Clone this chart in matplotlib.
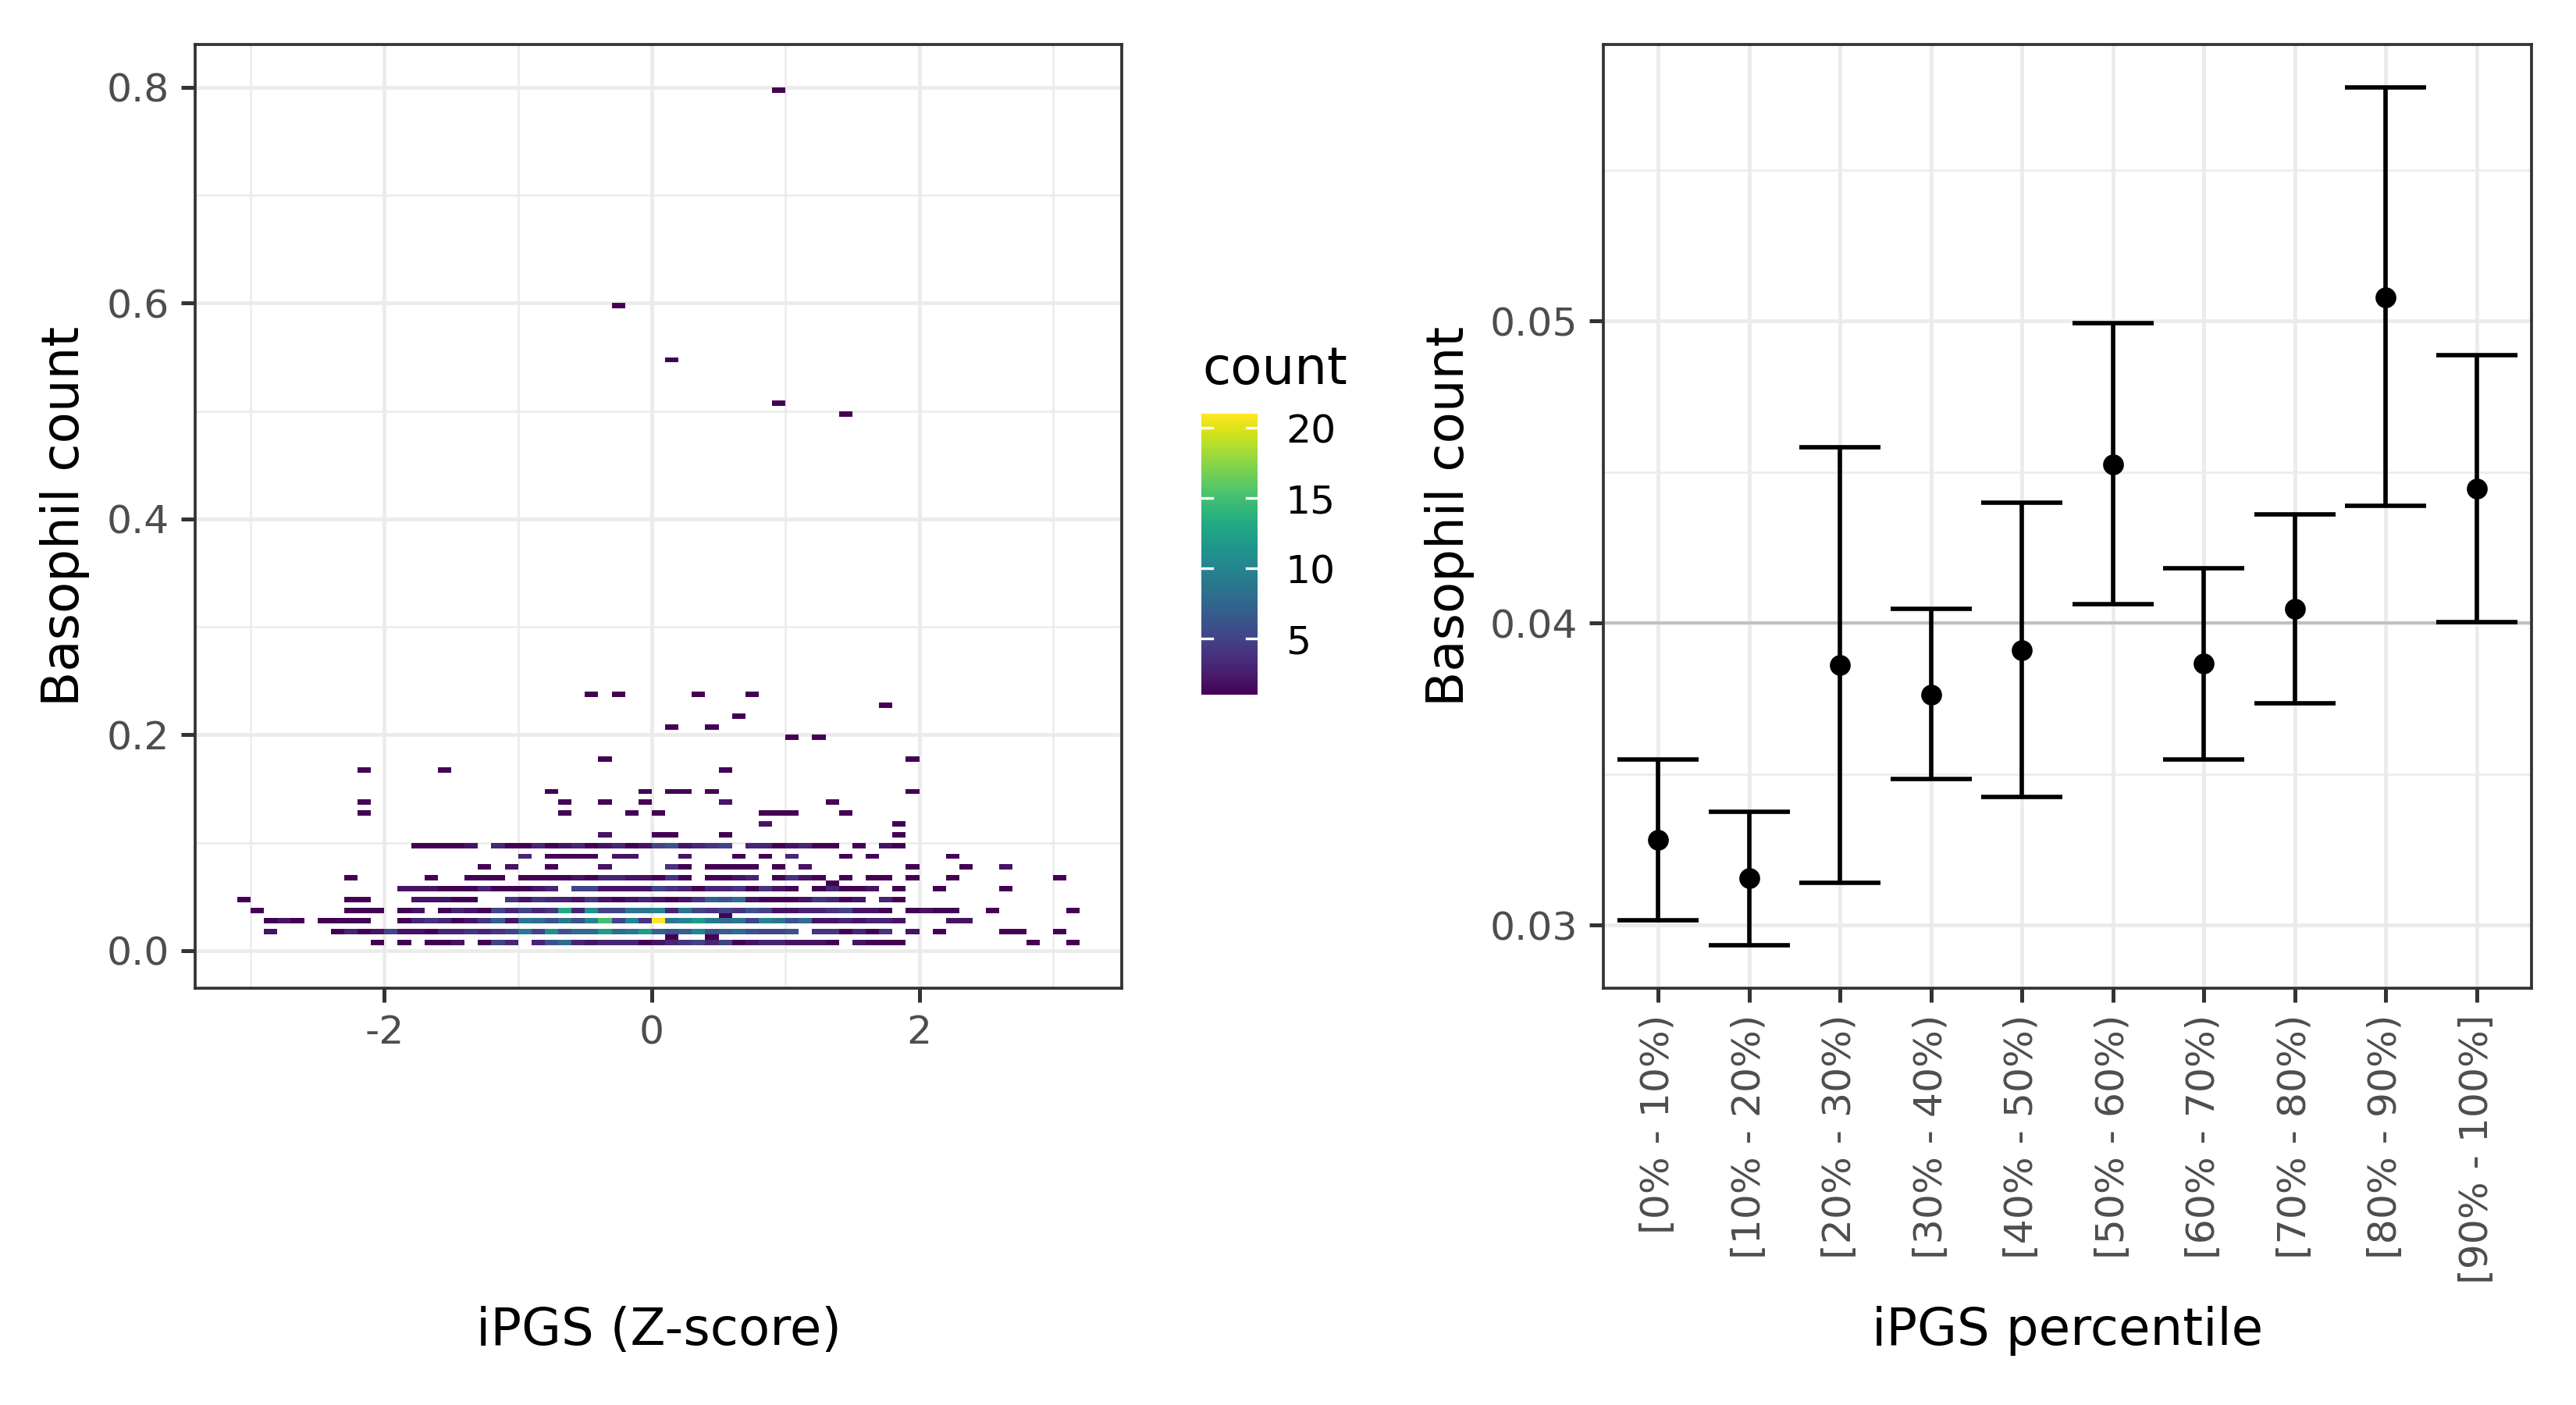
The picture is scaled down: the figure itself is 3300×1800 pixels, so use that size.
import numpy as np
import matplotlib
matplotlib.use("Agg")
import matplotlib.pyplot as plt
from matplotlib import colors, cm
from matplotlib.ticker import FixedLocator
from matplotlib.transforms import blended_transform_factory

plt.rcParams["font.family"] = ["DejaVu Sans"]
plt.rcParams["axes.unicode_minus"] = False

# ---- left panel: 2d bins (iPGS z-score x basophil count) ----
# x bins start at -3.1, width 0.1; each row is the top of a 0.005-high y bin
BIN_X0 = -3.1
BIN_DX = 0.1
BIN_DY = 0.005

row_y = [0.01, 0.015, 0.02, 0.03, 0.035, 0.04, 0.05, 0.06, 0.065, 0.07, 0.08,
         0.09, 0.10, 0.11, 0.12, 0.13, 0.14, 0.15, 0.17, 0.18, 0.20, 0.21,
         0.22, 0.23, 0.24, 0.50, 0.51, 0.55, 0.60, 0.80]

# "bin:count" pairs per row
row_cells = [
    "10:1 12:1 14:1 15:1 16:2 18:1 19:5 20:3 22:3 23:6 24:8 25:3 26:2 27:3 28:3 29:3 30:1 31:2 "
    "32:3 33:4 34:5 35:3 36:5 37:1 38:2 39:3 40:3 41:2 42:2 43:2 44:1 46:2 47:1 48:1 49:1 59:1 62:1",
    "32:1 35:1",
    "2:2 7:1 8:3 9:1 10:2 11:5 12:2 13:2 14:1 15:3 16:3 17:4 18:3 19:4 20:5 21:9 22:5 23:11 24:6 "
    "25:8 26:8 27:12 28:8 29:9 30:12 31:7 32:6 33:7 34:10 35:6 36:7 37:8 38:6 39:5 40:5 41:6 43:4 "
    "44:4 45:1 46:3 47:1 48:4 50:2 52:1 57:1 58:1 61:1",
    "2:1 3:2 4:1 6:1 7:1 8:1 9:1 12:1 13:3 14:4 15:3 16:1 17:2 18:4 19:7 20:2 21:9 22:8 23:6 24:9 "
    "25:6 26:10 27:15 28:5 29:10 30:4 31:21 32:9 33:10 34:12 35:9 36:8 37:9 38:5 39:10 40:9 41:6 "
    "42:8 43:2 44:2 45:3 46:2 47:3 48:3 49:2 53:2 54:2",
    "36:1",
    "1:1 8:1 9:1 10:1 12:1 13:2 15:1 16:3 17:2 18:1 19:5 20:3 21:5 22:3 23:4 24:13 25:3 26:11 27:5 "
    "28:5 29:9 30:9 31:10 32:3 33:9 34:5 35:4 36:5 37:4 38:6 39:5 40:2 41:2 42:3 43:3 44:4 45:5 "
    "46:2 47:2 48:1 50:1 51:2 52:1 53:1 56:1 62:1",
    "0:1 8:1 9:1 13:2 14:2 15:2 16:1 17:1 20:4 21:2 22:4 23:3 24:3 25:2 26:4 27:2 28:1 29:2 30:3 "
    "31:2 32:1 33:2 34:4 35:7 36:6 37:8 38:2 39:1 40:1 41:1 42:2 43:4 44:3 45:1 46:2 48:3 49:1",
    "12:2 13:2 14:2 15:1 16:1 17:1 18:3 19:1 20:1 21:1 22:2 23:3 25:5 26:5 27:2 28:2 29:2 30:2 "
    "31:5 32:4 33:3 34:1 35:3 36:3 37:4 38:1 39:4 40:2 41:1 43:1 44:3 45:1 46:1 47:2 49:1 52:1 57:1",
    "44:1",
    "8:1 14:1 17:1 18:1 19:1 21:1 22:1 23:1 24:1 25:2 26:1 27:3 28:3 29:2 30:2 31:1 32:4 33:1 "
    "35:1 36:1 37:2 38:3 40:1 41:4 42:2 43:1 45:1 47:1 48:1 50:1 53:1 61:1",
    "18:1 20:2 23:1 27:2 32:4 33:1 35:1 36:1 37:1 38:1 40:1 42:2 50:1 54:1 57:2",
    "21:3 23:1 24:1 25:1 26:1 28:2 29:2 33:2 37:1 39:1 41:3 45:1 47:1 53:1",
    "13:1 14:1 15:1 16:1 17:2 19:3 20:1 21:1 22:3 23:1 24:2 25:3 26:1 27:2 28:3 29:1 30:2 31:5 "
    "32:6 33:2 34:3 35:4 36:5 38:3 39:3 40:1 41:2 42:3 43:1 44:1 46:1 48:2 49:1",
    "27:2 31:1 32:1 36:1 49:1",
    "39:2 49:1",
    "9:1 24:1 29:1 31:1 39:1 40:1 41:1 45:1",
    "9:1 24:1 27:1 30:1 36:2 44:1",
    "23:1 30:1 32:1 33:1 35:1 50:1",
    "9:1 15:1 36:1",
    "27:1 50:1",
    "41:1 43:1",
    "32:1 35:1",
    "37:1",
    "48:1",
    "26:1 28:1 34:1 38:1",
    "45:1",
    "40:1",
    "32:1",
    "28:1",
    "40:1",
]

# ---- right panel: mean basophil count per iPGS decile ----
pct_labels = ["[0% - 10%)", "[10% - 20%)", "[20% - 30%)", "[30% - 40%)", "[40% - 50%)",
              "[50% - 60%)", "[60% - 70%)", "[70% - 80%)", "[80% - 90%)", "[90% - 100%]"]
pct_mean = [0.03282, 0.03155, 0.03861, 0.03764, 0.03910, 0.04525, 0.03865, 0.04047, 0.05079, 0.04445]
pct_lo = [0.03017, 0.02933, 0.03141, 0.03483, 0.03424, 0.04062, 0.03549, 0.03735, 0.04388, 0.04004]
pct_hi = [0.03549, 0.03376, 0.04583, 0.04047, 0.04398, 0.04993, 0.04181, 0.04359, 0.05774, 0.04888]
pop_mean = 0.04

TXT = "#4D4D4D"
LINE = "#333333"
GRID = "#EBEBEB"
W, H = 3300, 1800


def px_axes(fig, x0, y0, x1, y1):
    # pixel box (top-left origin) -> figure axes
    return fig.add_axes([x0 / W, 1 - y1 / H, (x1 - x0) / W, (y1 - y0) / H])


def style_axes(ax):
    ax.set_axisbelow(True)
    ax.grid(which="major", color=GRID, lw=1.15)
    ax.grid(which="minor", color=GRID, lw=0.6)
    for s in ax.spines.values():
        s.set_color(LINE)
        s.set_linewidth(0.9)
    ax.tick_params(which="major", length=4.3, width=1.2, color=LINE,
                   labelcolor=TXT, labelsize=12.1, pad=3.7)
    ax.tick_params(which="minor", length=0)


fig = plt.figure(figsize=(11, 6), dpi=300)

# left panel
ax1 = px_axes(fig, 250, 57, 1437, 1266)
cx, cy, cn = [], [], []
for y, cells in zip(row_y, row_cells):
    for item in cells.split():
        k, n = item.split(":")
        cx.append(BIN_X0 + BIN_DX * (int(k) + 0.5))
        cy.append(y)
        cn.append(int(n))
cx, cy, cn = np.array(cx), np.array(cy), np.array(cn)

cmap = plt.get_cmap("viridis")
norm = colors.Normalize(vmin=cn.min(), vmax=cn.max())
ax1.bar(cx, BIN_DY, width=BIN_DX, bottom=cy - BIN_DY, color=cmap(norm(cn)),
        linewidth=0, zorder=2)

x_lo, x_hi = cx.min() - BIN_DX / 2, cx.max() + BIN_DX / 2
y_lo, y_hi = cy.min() - BIN_DY, cy.max()
ax1.set_xlim(x_lo - 0.05 * (x_hi - x_lo), x_hi + 0.05 * (x_hi - x_lo))
ax1.set_ylim(y_lo - 0.05 * (y_hi - y_lo), y_hi + 0.05 * (y_hi - y_lo))
ax1.xaxis.set_major_locator(FixedLocator([-2, 0, 2]))
ax1.xaxis.set_minor_locator(FixedLocator([-3, -1, 1, 3]))
ax1.yaxis.set_major_locator(FixedLocator([0, 0.2, 0.4, 0.6, 0.8]))
ax1.yaxis.set_minor_locator(FixedLocator([0.1, 0.3, 0.5, 0.7]))
ax1.set_xticklabels(["-2", "0", "2"])
ax1.set_yticklabels(["0.0", "0.2", "0.4", "0.6", "0.8"])
style_axes(ax1)

# colour legend
cax = px_axes(fig, 1539, 530, 1611, 890)
cb = fig.colorbar(cm.ScalarMappable(norm=norm, cmap=cmap), cax=cax)
cb.outline.set_visible(False)
cb.set_ticks([5, 10, 15, 20])
cax.tick_params(length=0, labelsize=12.1, labelcolor="black", pad=8.6)
tr = blended_transform_factory(cax.transAxes, cax.transData)
for v in [5, 10, 15, 20]:
    cax.plot([0, 0.2], [v, v], color="white", lw=0.8, transform=tr)
    cax.plot([0.8, 1], [v, v], color="white", lw=0.8, transform=tr)
fig.text(1540 / W, 1 - 492 / H, "count", fontsize=15.8, ha="left", va="baseline")

# right panel
ax2 = px_axes(fig, 2054, 57, 3243, 1266)
xs = np.arange(len(pct_labels))
mean = np.array(pct_mean)
lo = np.array(pct_lo)
hi = np.array(pct_hi)
ax2.axhline(pop_mean, color="#BEBEBE", lw=0.9, zorder=1.5)
ax2.errorbar(xs, mean, yerr=[mean - lo, hi - mean], fmt="o", color="black",
             ms=5.4, elinewidth=1.35, capsize=12.4, capthick=1.35, zorder=3)
ax2.set_xlim(-0.6, len(xs) - 0.4)
span = hi.max() - lo.min()
ax2.set_ylim(lo.min() - 0.05 * span, hi.max() + 0.05 * span)
ax2.set_xticks(xs)
ax2.set_xticklabels(pct_labels, rotation=90, ha="center", va="top")
ax2.yaxis.set_major_locator(FixedLocator([0.03, 0.04, 0.05]))
ax2.yaxis.set_minor_locator(FixedLocator([0.035, 0.045, 0.055]))
ax2.set_yticklabels(["0.03", "0.04", "0.05"])
style_axes(ax2)

# axis titles
fig.text(843.5 / W, 1 - 1705 / H, "iPGS (Z-score)", fontsize=15.8, ha="center", va="center")
fig.text(2648.5 / W, 1 - 1705 / H, "iPGS percentile", fontsize=15.8, ha="center", va="center")
fig.text(83 / W, 1 - 661.5 / H, "Basophil count", fontsize=15.8, rotation=90,
         ha="center", va="center")
fig.text(1857 / W, 1 - 661.5 / H, "Basophil count", fontsize=15.8, rotation=90,
         ha="center", va="center")

fig.savefig("out.png", dpi=300, facecolor="white")
